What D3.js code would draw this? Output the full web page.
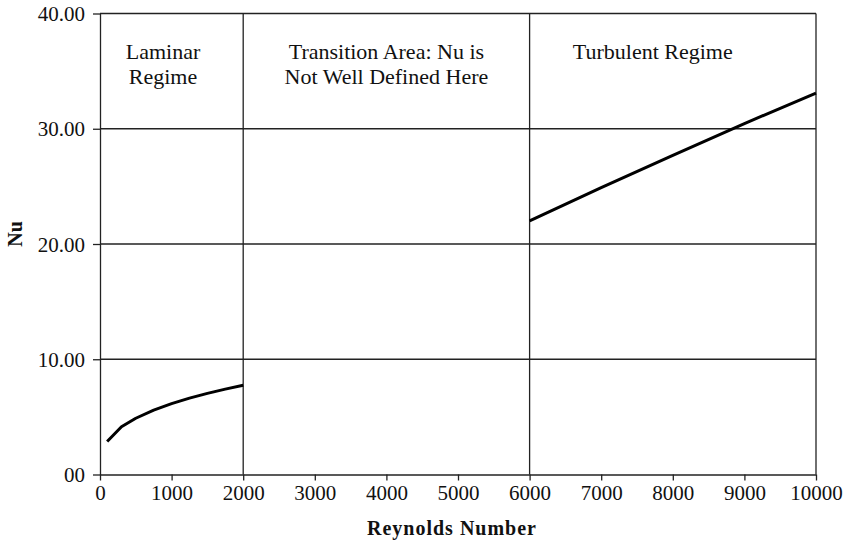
<!DOCTYPE html>
<html lang="en">
<head>
	<meta charset="UTF-8">
	<title>Nu vs Reynolds Number</title>
	<script src="https://d3js.org/d3.v7.min.js"></script>
	<style>
		body { margin: 0; background: #fff; }
		text { font-family: "Liberation Serif", "Times New Roman", serif; fill: #111; }
		.tick text { font-size: 21px; }
		.title { font-size: 20px; font-weight: bold; }
		.note { font-size: 22px; }
	</style>
</head>
<body>
<div id="chart"></div>
<script>
	// laminar branch (Re < 2000)
	var laminarRe = [100, 300, 500, 750, 1000, 1250, 1500, 1750, 2000];
	var laminarNu = [2.86, 4.15, 4.88, 5.59, 6.15, 6.63, 7.04, 7.41, 7.75];

	// turbulent branch (Re > 6000)
	var turbRe = [6000, 7000, 8000, 9000, 10000];
	var turbNu = [22.0, 24.9, 27.7, 30.45, 33.1];

	var xTicks = [0, 1000, 2000, 3000, 4000, 5000, 6000, 7000, 8000, 9000, 10000];
	var yTicks = [0, 10, 20, 30, 40];
	var yTickLabels = ["00", "10.00", "20.00", "30.00", "40.00"];
	var xGrid = [2000, 6000, 10000];

	var notes = [
		{ re: 880, lines: ["Laminar", "Regime"] },
		{ re: 4000, lines: ["Transition Area: Nu is", "Not Well Defined Here"] },
		{ re: 7720, lines: ["Turbulent Regime"] }
	];

	var W = 850, H = 540;
	var margin = { top: 13.5, right: 34, bottom: 65.5, left: 100 };
	var w = W - margin.left - margin.right;
	var h = H - margin.top - margin.bottom;

	var svg = d3.select("#chart").append("svg")
		.attr("width", W)
		.attr("height", H);
	var g = svg.append("g").attr("transform", "translate(" + margin.left + "," + margin.top + ")");

	var x = d3.scaleLinear().domain([0, 10000]).range([0, w]);
	var y = d3.scaleLinear().domain([0, 40]).range([h, 0]);

	// horizontal grid lines
	g.selectAll(".hgrid")
		.data(yTicks.slice(1))
		.enter().append("line")
		.attr("class", "hgrid")
		.attr("x1", 0).attr("x2", w)
		.attr("y1", function (d) { return y(d); })
		.attr("y2", function (d) { return y(d); })
		.attr("stroke", "#222").attr("stroke-width", 1.3);

	// vertical region lines
	g.selectAll(".vgrid")
		.data(xGrid)
		.enter().append("line")
		.attr("class", "vgrid")
		.attr("x1", function (d) { return x(d); })
		.attr("x2", function (d) { return x(d); })
		.attr("y1", 0).attr("y2", h)
		.attr("stroke", "#222").attr("stroke-width", 1.3);

	// axes
	var xAxis = g.append("g")
		.attr("transform", "translate(0," + h + ")")
		.call(d3.axisBottom(x).tickValues(xTicks).tickFormat(d3.format("d")).tickSizeInner(6).tickSizeOuter(0).tickPadding(5));
	var yAxis = g.append("g")
		.call(d3.axisLeft(y).tickValues(yTicks).tickFormat(function (d, i) { return yTickLabels[i]; }).tickSizeInner(7).tickSizeOuter(0).tickPadding(8));

	[xAxis, yAxis].forEach(function (a) {
		a.select(".domain").attr("stroke", "#222").attr("stroke-width", 1.3);
		a.selectAll(".tick line").attr("stroke", "#222").attr("stroke-width", 1.3);
		a.selectAll(".tick text").attr("fill", "#111");
	});
	yAxis.selectAll(".tick text").attr("dy", "0.34em");

	// data lines
	var line = d3.line()
		.x(function (d) { return x(d[0]); })
		.y(function (d) { return y(d[1]); });

	g.append("path")
		.datum(d3.zip(laminarRe, laminarNu))
		.attr("d", line)
		.attr("fill", "none").attr("stroke", "#000").attr("stroke-width", 3)
		.attr("stroke-linejoin", "round");

	g.append("path")
		.datum(d3.zip(turbRe, turbNu))
		.attr("d", line)
		.attr("fill", "none").attr("stroke", "#000").attr("stroke-width", 3)
		.attr("stroke-linejoin", "round");

	// region notes
	notes.forEach(function (n) {
		var t = g.append("text")
			.attr("class", "note")
			.attr("text-anchor", "middle")
			.attr("x", x(n.re))
			.attr("y", 45.5);
		n.lines.forEach(function (s, i) {
			t.append("tspan")
				.attr("x", x(n.re))
				.attr("dy", i === 0 ? 0 : 25)
				.text(s);
		});
	});

	// axis titles
	svg.append("text")
		.attr("class", "title")
		.attr("text-anchor", "middle")
		.attr("x", 452)
		.attr("y", 535)
		.style("letter-spacing", "1px")
		.text("Reynolds Number");

	svg.append("text")
		.attr("class", "title")
		.attr("text-anchor", "middle")
		.attr("transform", "translate(21.5,234) rotate(-90)")
		.text("Nu");
</script>
</body>
</html>
